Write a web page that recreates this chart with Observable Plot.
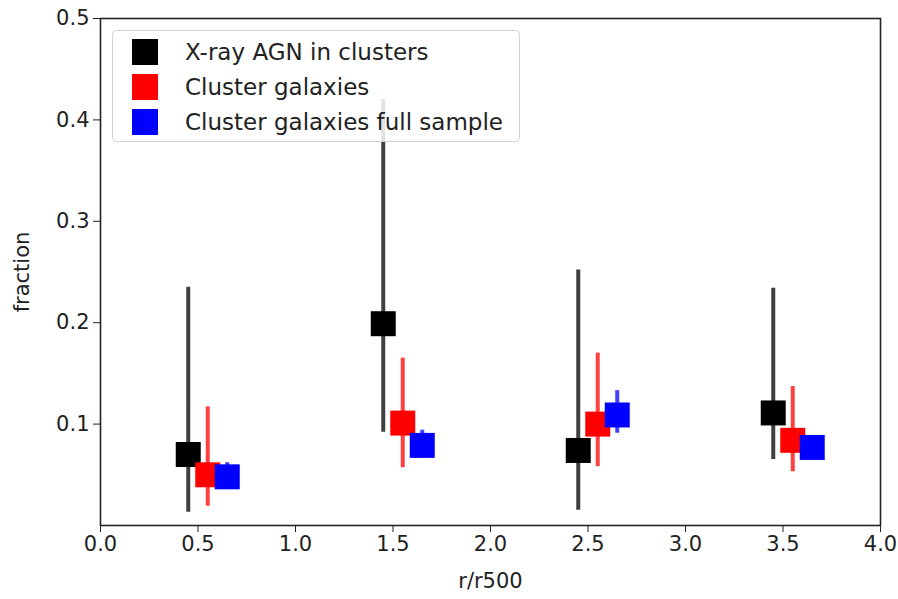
<!DOCTYPE html>
<html>
<head>
<meta charset="utf-8">
<script src="https://cdn.jsdelivr.net/npm/d3@7"></script>
<script src="https://cdn.jsdelivr.net/npm/@observablehq/plot@0.6"></script>
<style>
  html, body { margin: 0; padding: 0; background: #fff; }
</style>
</head>
<body>
<div id="wrap"></div>
<script>
// ---- data ----
const seriesNames = ["X-ray AGN in clusters", "Cluster galaxies", "Cluster galaxies full sample"];
const seriesColors = ["#000000", "#ff0000", "#0000ff"];

const agnX  = [0.45, 1.45, 2.45, 3.45];
const agnY  = [0.070, 0.199, 0.074, 0.111];
const agnLo = [0.013, 0.092, 0.015, 0.065];
const agnHi = [0.235, 0.420, 0.252, 0.234];

const galX  = [0.55, 1.55, 2.55, 3.55];
const galY  = [0.050, 0.101, 0.100, 0.084];
const galLo = [0.019, 0.057, 0.058, 0.053];
const galHi = [0.117, 0.165, 0.170, 0.137];

const fullX  = [0.65, 1.65, 2.65, 3.65];
const fullY  = [0.048, 0.079, 0.109, 0.077];
const fullLo = [0.040, 0.067, 0.091, 0.072];
const fullHi = [0.062, 0.094, 0.133, 0.083];

const xTicks = [0, 0.5, 1, 1.5, 2, 2.5, 3, 3.5, 4];
const yTicks = [0.1, 0.2, 0.3, 0.4, 0.5];

const series = [
  {x: agnX, y: agnY, lo: agnLo, hi: agnHi},
  {x: galX, y: galY, lo: galLo, hi: galHi},
  {x: fullX, y: fullY, lo: fullLo, hi: fullHi}
].map((s, k) => s.x.map((x, i) => ({x, y: s.y[i], lo: s.lo[i], hi: s.hi[i], name: seriesNames[k], color: seriesColors[k]})));

const marks = [];
series.forEach(rows => {
  marks.push(Plot.ruleX(rows, {x: "x", y1: "lo", y2: "hi", stroke: rows[0].color, strokeWidth: 4, strokeOpacity: 0.75}));
  marks.push(Plot.dot(rows, {x: "x", y: "y", symbol: "square", r: 14.1, fill: rows[0].color, stroke: null}));
});

const chart = Plot.plot({
  width: 898,
  height: 599,
  marginLeft: 100,
  marginRight: 18,
  marginTop: 18,
  marginBottom: 74,
  style: {fontFamily: "DejaVu Sans, sans-serif", fontSize: "21px", color: "#222", background: "#fff"},
  x: {domain: [0, 4], ticks: xTicks, tickFormat: d3.format(".1f"), label: "r/r500", labelAnchor: "center", labelArrow: "none", tickSize: 7, tickPadding: 4, labelOffset: 62},
  y: {domain: [0, 0.5], ticks: yTicks, tickFormat: d3.format(".1f"), label: "fraction", labelAnchor: "center", labelArrow: "none", tickSize: 7, tickPadding: 4, labelOffset: 86},
  marks: [
    ...marks,
    Plot.frame({stroke: "#222", strokeWidth: 1.6})
  ]
});

document.getElementById("wrap").appendChild(chart);

// legend drawn inside the SVG, on top of the marks (matplotlib-style, framealpha 0.8)
const svg = d3.select(chart);
const lg = svg.append("g").attr("transform", "translate(112,30)").attr("text-anchor", "start");
lg.append("rect")
  .attr("x", 0.5).attr("y", 0.5).attr("width", 407).attr("height", 111).attr("rx", 4)
  .attr("fill", "#ffffff").attr("fill-opacity", 0.85)
  .attr("stroke", "#d0d0d0").attr("stroke-width", 1);
seriesNames.forEach((name, i) => {
  const cy = 22 + i * 35;
  lg.append("rect").attr("x", 20).attr("y", cy - 13).attr("width", 26).attr("height", 26).attr("fill", seriesColors[i]);
  lg.append("text").attr("x", 73).attr("y", cy).attr("dy", "0.36em").attr("text-anchor", "start")
    .attr("font-family", "DejaVu Sans, sans-serif").attr("font-size", 23).attr("fill", "#222").text(name);
});
</script>
</body>
</html>
